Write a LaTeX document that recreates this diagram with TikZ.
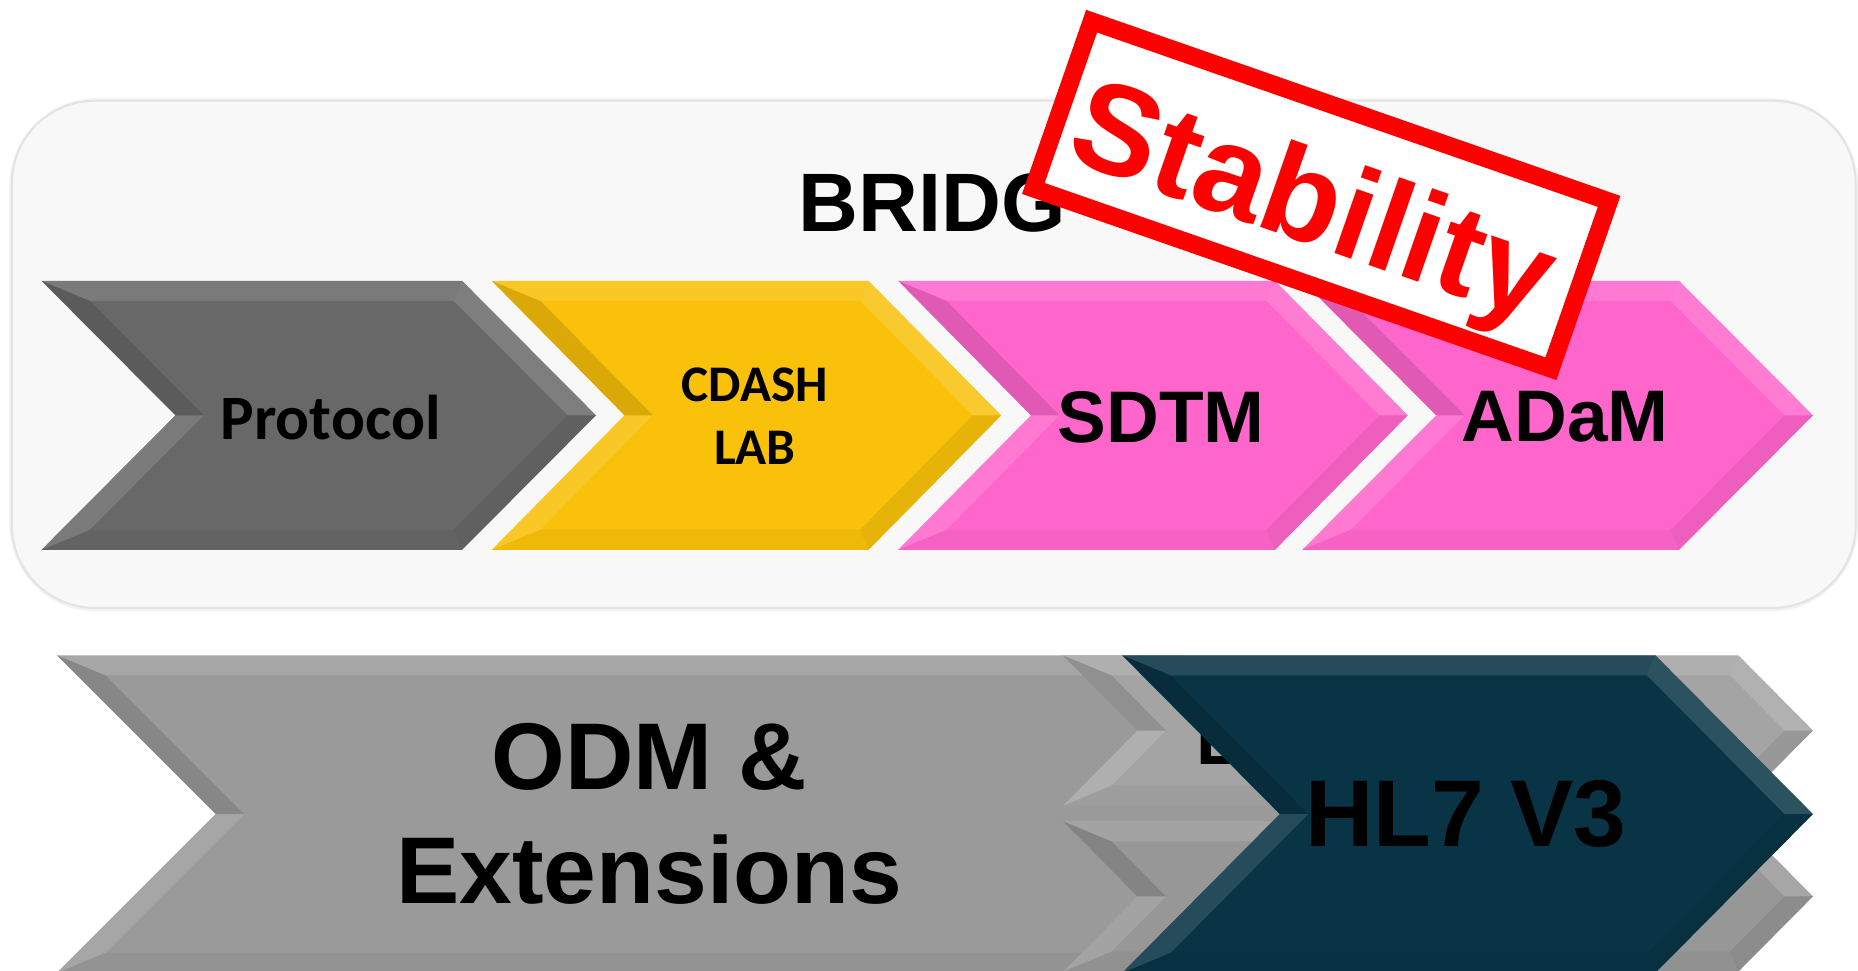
\documentclass[tikz,border=0pt]{standalone}
\usepackage{fontspec}
\setmainfont{Liberation Sans}
\newfontfamily\calibrifont{Carlito}
\usetikzlibrary{calc}
\definecolor{protogray}{HTML}{686868}
\definecolor{cdashgold}{HTML}{F9C10A}
\definecolor{sdtmpink}{HTML}{FF66CC}
\definecolor{odmgray}{HTML}{9A9A9A}
\definecolor{hiddengray}{HTML}{A4A4A4}
\definecolor{hlteal}{HTML}{083445}
\definecolor{panelfill}{HTML}{F8F8F8}
\definecolor{stampred}{HTML}{FF0000}

% chevron with bevel facets: left x, top y, bottom y, right x, depth, colour
\newcommand\chevshape[6]{%
    \fill [#6] (#1,#2) -- (#4,#2) -- ({#4+#5},{(#2+#3)/2}) -- (#4,#3) -- (#1,#3) -- ({#1+#5},{(#2+#3)/2}) -- cycle;
    \fill [white, opacity=.12] (#1,#2) -- (#4,#2) -- ({#4-7},{#2+17}) -- ({#1+41},{#2+17}) -- cycle;
    \fill [white, opacity=.15] (#4,#2) -- ({#4+#5},{(#2+#3)/2}) -- ({#4+#5-24},{(#2+#3)/2}) -- ({#4-7},{#2+17}) -- cycle;
    \fill [black, opacity=.07] ({#4+#5},{(#2+#3)/2}) -- (#4,#3) -- ({#4-7},{#3-17}) -- ({#4+#5-24},{(#2+#3)/2}) -- cycle;
    \fill [black, opacity=.04] (#4,#3) -- (#1,#3) -- ({#1+41},{#3-17}) -- ({#4-7},{#3-17}) -- cycle;
    \fill [white, opacity=.12] (#1,#3) -- ({#1+#5},{(#2+#3)/2}) -- ({#1+#5+24},{(#2+#3)/2}) -- ({#1+41},{#3-17}) -- cycle;
    \fill [black, opacity=.12] ({#1+#5},{(#2+#3)/2}) -- (#1,#2) -- ({#1+41},{#2+17}) -- ({#1+#5+24},{(#2+#3)/2}) -- cycle;
}

\begin{document}
\begin{tikzpicture}[x=0.6pt,y=0.6pt,yscale=-1,
        lbl/.style={inner sep=0pt, align=center},
        stampbox/.style={draw=stampred, line width=9pt, fill=white, rotate=-19.2,
            minimum width=277.5pt, minimum height=89.7pt, inner sep=0pt},
        stamptext/.style={text=stampred, rotate=-19.2, inner sep=0pt,
            font=\bfseries\fontsize{65}{65}\selectfont}]
        \useasboundingbox (0,0) rectangle (1568,819);
        \clip (0,0) rectangle (1568,819);

        % BRIDG panel
        \fill [gray!10, rounded corners=44pt] (8,83) rectangle (1568,516);
        \draw [gray!22, line width=1pt, fill=panelfill, rounded corners=42pt] (10,85) rectangle (1566,513);
        \node [lbl, font=\bfseries\fontsize{42}{42}\selectfont] (bridg) at (787,171) {BRIDG};

        % Top row of chevrons
        \chevshape{35}{237}{464}{390}{113}{protogray}
        \chevshape{415}{237}{464}{733}{112}{cdashgold}
        \chevshape{758}{237}{464}{1076}{112}{sdtmpink}
        \chevshape{1099}{237}{464}{1417}{113}{sdtmpink}

        \node [lbl, font=\calibrifont\bfseries\fontsize{32}{32}\selectfont] (protocol) at (279,352) {Protocol};
        \node [lbl, font=\calibrifont\bfseries\fontsize{26}{32}\selectfont] (cdash) at (637,351) {CDASH\\LAB};
        \node [lbl, font=\bfseries\fontsize{37}{37}\selectfont] (sdtm) at (980,352) {SDTM};
        \node [lbl, font=\bfseries\fontsize{37}{37}\selectfont] (adam) at (1321,352) {ADaM};

        % Bottom row
        \chevshape{48}{553}{821}{1000}{134}{odmgray}
        \node [lbl, font=\bfseries\fontsize{48}{58}\selectfont] (odm) at (548,687) {ODM \&\\Extensions};

        \chevshape{897}{553}{680}{1467}{63}{hiddengray}
        \chevshape{897}{693}{820}{1467}{63}{hiddengray!92!black}
        \node [lbl, anchor=base west, font=\bfseries\fontsize{36}{36}\selectfont] (hidden) at (1009,645) {E};

        \chevshape{947}{553}{821}{1397}{133}{hlteal}
        \node [lbl, font=\bfseries\fontsize{48}{48}\selectfont] (hl7) at (1237,687) {HL7 V3};

        % Stamp
        \node [stampbox] (stamp) at (1115,164.5) {};
        \node [stamptext] (stability) at (1106,177) {Stability};
\end{tikzpicture}
\end{document}
